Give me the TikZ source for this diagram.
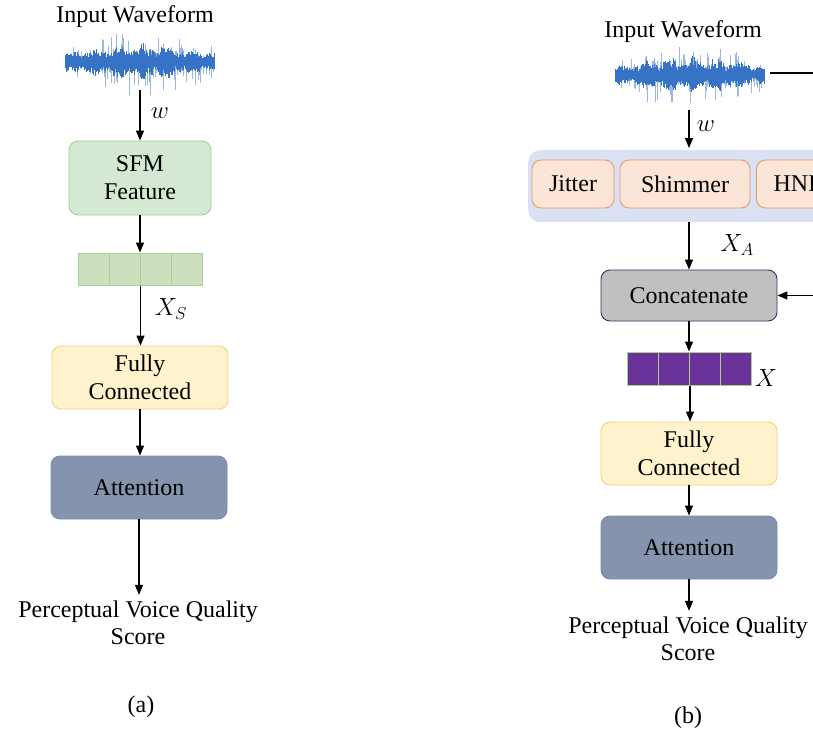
\documentclass[tikz,border=0pt]{standalone}
\usepackage{fontspec}
\setmainfont{Liberation Serif}
\usetikzlibrary{arrows.meta}
\definecolor{wavec}{HTML}{3673C6}
\definecolor{greenf}{HTML}{D5E8D4}
\definecolor{greend}{HTML}{A3CD93}
\definecolor{yelf}{HTML}{FFF2CC}
\definecolor{yeld}{HTML}{F2D27A}
\definecolor{attf}{HTML}{8593AD}
\definecolor{attd}{HTML}{6C8EBF}
\definecolor{contf}{HTML}{DAE1F2}
\definecolor{orf}{HTML}{FBE5D6}
\definecolor{ord}{HTML}{E59A64}
\definecolor{grayf}{HTML}{C0C0C0}
\definecolor{navy}{HTML}{243B5E}
\definecolor{purp}{HTML}{6A3399}
\definecolor{cellg}{HTML}{CCDFBF}
\definecolor{celld}{HTML}{A9D18E}
\tikzset{
  box/.style={draw, rounded corners=9pt, line width=0.9pt, align=center, inner sep=0pt, font=\fontsize{24}{28}\selectfont},
  arr/.style={-{Triangle[length=10pt,width=8pt]}, line width=1.3pt},
  txt/.style={align=center, inner sep=0pt, font=\fontsize{24}{27}\selectfont},
  mlab/.style={inner sep=0pt, font=\fontsize{24}{28}\selectfont},
  cellS/.style={draw=celld, fill=cellg, line width=1pt, minimum width=31pt, minimum height=32pt, inner sep=0pt},
  cellP/.style={draw=celld, fill=purp, line width=1pt, minimum width=31pt, minimum height=33pt, inner sep=0pt},
  obox/.style={box, fill=orf, draw=ord, minimum height=48pt},
}
\newcommand\drawwave[3]{%
  \pgfmathsetseed{#3}%
  \foreach \i in {0,...,249}{%
    \pgfmathsetmacro\xx{#1-75+\i*0.6}%
    \pgfmathsetmacro\env{(0.55+0.45*sin(\i/249*180))*(1+0.25*sin(\i*9)+0.15*sin(\i*23))}%
    \pgfmathsetmacro\up{\env*(6+8*rnd)}%
    \pgfmathsetmacro\dn{\env*(6+8*rnd)}%
    \draw[wavec, line width=0.8pt] (\xx,#2-\up) -- (\xx,#2+\dn);
  }%
  \foreach \i in {0,...,124}{%
    \pgfmathsetmacro\xx{#1-75+\i*1.2}%
    \pgfmathsetmacro\env{0.5+0.5*sin(\i/124*180)}%
    \pgfmathsetmacro\up{\env*(8+22*rnd^4)}%
    \pgfmathsetmacro\dn{\env*(8+26*rnd^4)}%
    \draw[wavec, opacity=0.5, line width=0.8pt] (\xx,#2-\up) -- (\xx,#2+\dn);
  }%
}
\begin{document}
\begin{tikzpicture}[x=1pt,y=-1pt]
\clip (0,0) rectangle (813,736);
\fill[white] (0,0) rectangle (813,736);
% ---------- (a) ----------
\node[txt] (inA) at (135,17) {Input Waveform};
\node[minimum width=150pt, minimum height=56pt, inner sep=0pt] (wA) at (140,62) {};
\drawwave{140}{62}{7}
\node[box, fill=greenf, draw=greend, minimum width=142pt, minimum height=74pt] (sfm) at (140,178) {SFM\\Feature};
\node[cellS] (a1) at (93.5,269) {};
\node[cellS] (a2) at (124.5,269) {};
\node[cellS] (a3) at (155.5,269) {};
\node[cellS] (a4) at (186.5,269) {};
\node[box, fill=yelf, draw=yeld, minimum width=176pt, minimum height=63pt] (fcA) at (140,377.5) {Fully\\Connected};
\node[box, fill=attf, draw=attd, minimum width=176pt, minimum height=63pt] (attA) at (139,487.5) {Attention};
\node[txt] (scA) at (138,623) {Perceptual Voice Quality\\Score};
\node[txt] (labA) at (141,707) {(a)};
\draw[arr] (wA.south) -- (sfm.north);
\draw[arr] (sfm.south) -- (sfm.south |- a2.north);
\draw[arr] (a2.south east) -- (a2.south east |- fcA.north);
\draw[arr] (fcA.south) -- (fcA.south |- attA.north);
\draw[arr] (attA.south) -- ([yshift=6pt]attA.south |- scA.north);
\node[mlab] (lw1) at (160,113) {$w$};
\node[mlab] (lxs) at (171,309) {$X_S$};
% ---------- (b) ----------
\node[txt] (inB) at (683,32) {Input Waveform};
\node[minimum width=160pt, minimum height=70pt, inner sep=0pt] (wB) at (690,75) {};
\drawwave{690}{75}{11}
\coordinate (rout) at (816,73);
\draw[line width=1.3pt] (770,73) -- (rout);
\node[fill=contf, rounded corners=12pt, minimum width=302pt, minimum height=72pt, inner sep=0pt, anchor=north west] (cont) at (528,150) {};
\node[obox, minimum width=82pt] (jit) at (573,184) {Jitter};
\node[obox, minimum width=130pt] (shim) at (685,184) {Shimmer};
\node[obox, minimum width=85pt, anchor=west] (hnr) at (756,184) {HNR};
\node[box, fill=grayf, draw=navy, minimum width=176pt, minimum height=51pt] (cat) at (689,295.5) {Concatenate};
\coordinate (rin) at (816,295.5);
\node[cellP] (b1) at (643,368.5) {};
\node[cellP] (b2) at (674,368.5) {};
\node[cellP] (b3) at (705,368.5) {};
\node[cellP] (b4) at (736,368.5) {};
\node[box, fill=yelf, draw=yeld, minimum width=176pt, minimum height=63pt] (fcB) at (689,453.5) {Fully\\Connected};
\node[box, fill=attf, draw=attd, minimum width=176pt, minimum height=63pt] (attB) at (689,547.5) {Attention};
\node[txt] (scB) at (688,639) {Perceptual Voice Quality\\Score};
\node[txt] (labB) at (688,718) {(b)};
\draw[arr] (689,110) -- (689,148);
\draw[arr] (cont.south -| cat) -- (cat.north);
\draw[arr] (rin) -- (cat.east);
\draw[arr] (cat.south) -- (cat.south |- b2.north);
\draw[arr] (b2.south east) -- (b2.south east |- fcB.north);
\draw[arr] (fcB.south) -- (attB.north);
\draw[arr] (attB.south) -- ([yshift=6pt]attB.south |- scB.north);
\node[mlab] (lw2) at (706,126) {$w$};
\node[mlab] (lxa) at (737,245) {$X_A$};
\node[mlab] (lx) at (766,378) {$X$};
\end{tikzpicture}
\end{document}
